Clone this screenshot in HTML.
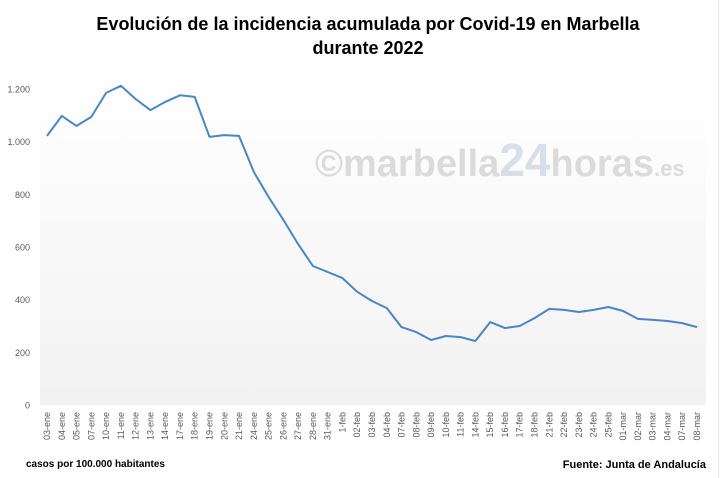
<!DOCTYPE html>
<html><head><meta charset="utf-8"><style>
body{margin:0;background:#fff;font-family:"Liberation Sans",sans-serif;}
svg{display:block}
</style></head><body>
<svg width="722" height="478">
<defs><linearGradient id="bg" x1="0" y1="0" x2="0" y2="1"><stop offset="0" stop-color="#fff"/><stop offset="1" stop-color="#f2f2f2"/></linearGradient></defs>
<rect x="0" y="0" width="722" height="478" fill="#fff"/>
<line x1="718.5" y1="0" x2="718.5" y2="478" stroke="#e6e6e6"/>
<text x="368" y="30" text-anchor="middle" font-size="18" font-weight="bold" fill="#000">Evolución de la incidencia acumulada por Covid-19 en Marbella</text>
<text x="368" y="54" text-anchor="middle" font-size="18" font-weight="bold" fill="#000">durante 2022</text>
<rect x="40" y="80" width="666" height="325" fill="url(#bg)"/>
<text x="315" y="176" font-size="38" font-weight="bold" fill="#d4d4d4" opacity="0.8">©marbella<tspan font-size="46" fill="#cfd8e4">24</tspan><tspan>horas</tspan><tspan font-size="22">.es</tspan></text>
<g id="yaxis"></g>
<g id="xaxis"></g>
<path id="line" fill="none" stroke="#4a86c5" stroke-width="2" stroke-linejoin="round"/>
<text x="26" y="467" font-size="10" font-weight="bold" fill="#000">casos por 100.000 habitantes</text>
<text x="706" y="468" text-anchor="end" font-size="11" font-weight="bold" fill="#000">Fuente: Junta de Andalucía</text>
</svg>
<script>
const categories=["03-ene","04-ene","05-ene","07-ene","10-ene","11-ene","12-ene","13-ene","14-ene","17-ene","18-ene","19-ene","20-ene","21-ene","24-ene","25-ene","26-ene","27-ene","28-ene","31-ene","1-feb","02-feb","03-feb","04-feb","07-feb","08-feb","09-feb","10-feb","11-feb","14-feb","15-feb","16-feb","17-feb","18-feb","21-feb","22-feb","23-feb","24-feb","25-feb","01-mar","02-mar","03-mar","04-mar","07-mar","08-mar"];
const values=[1022,1098,1060,1094,1185,1212,1162,1120,1151,1176,1170,1018,1025,1022,885,790,703,611,528,505,482,430,395,368,296,277,247,262,258,243,315,292,300,330,365,361,353,361,372,357,327,323,319,311,296];
const yTicks=[0,200,400,600,800,1000,1200];
const yTickLabels=["0","200","400","600","800","1.000","1.200"];
const NS="http://www.w3.org/2000/svg";
const x0=47,x1=697,yb=405,yt=89,ymax=1200;
const xs=i=>x0+i*(x1-x0)/(categories.length-1);
const ys=v=>yb-v*(yb-yt)/ymax;
const ya=document.getElementById('yaxis');
yTicks.forEach((t,i)=>{const e=document.createElementNS(NS,'text');


e.setAttribute('x',30);e.setAttribute('y',ys(t)+3.5);e.setAttribute('text-anchor','end');e.setAttribute('font-size','9');e.setAttribute('fill','#595959');e.textContent=yTickLabels[i];ya.appendChild(e);});
const xa=document.getElementById('xaxis');
categories.forEach((c,i)=>{const e=document.createElementNS(NS,'text');


const x=xs(i)+3,y=412;e.setAttribute('transform',`translate(${x},${y}) rotate(-90)`);e.setAttribute('text-anchor','end');e.setAttribute('font-size','9');e.setAttribute('fill','#595959');e.textContent=c;xa.appendChild(e);});
document.getElementById('line').setAttribute('d',values.map((v,i)=>(i?'L':'M')+xs(i).toFixed(1)+' '+ys(v).toFixed(1)).join(' '));
</script>
</body></html>
